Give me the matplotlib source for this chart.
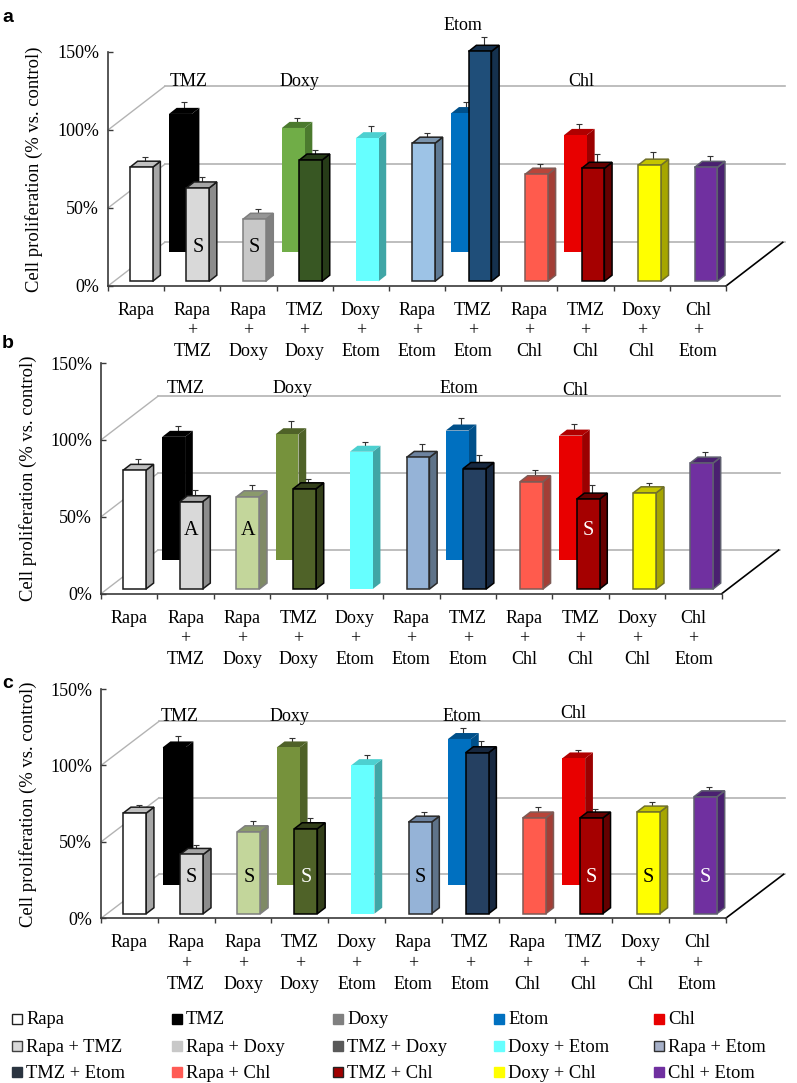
import matplotlib
matplotlib.use("Agg")
import matplotlib.pyplot as plt
from matplotlib.patches import Polygon, Rectangle

W, H = 797, 1083
plt.rcParams["font.family"] = ["Liberation Serif", "DejaVu Serif"]

# category labels, groups of bars
categories = ["Rapa", "Rapa\n+\nTMZ", "Rapa\n+\nDoxy", "TMZ\n+\nDoxy", "Doxy\n+\nEtom", "Rapa\n+\nEtom",
              "TMZ\n+\nEtom", "Rapa\n+\nChl", "TMZ\n+\nChl", "Doxy\n+\nChl", "Chl\n+\nEtom"]
front_names = ["Rapa", "Rapa + TMZ", "Rapa + Doxy", "TMZ + Doxy", "Doxy + Etom", "Rapa + Etom",
               "TMZ + Etom", "Rapa + Chl", "TMZ + Chl", "Doxy + Chl", "Chl + Etom"]
back_names = ["TMZ", "Doxy", "Etom", "Chl"]
back_slots = [1, 3, 6, 8]
y_ticks = [0, 50, 100, 150]
y_ticklabels = ["0%", "50%", "100%", "150%"]

# values, % vs. control
a_front = [73.1, 59.8, 39.7, 77.7, 91.7, 88.5, 147.4, 68.6, 72.4, 74.4, 73.0]
a_front_err = [4.9, 4.9, 4.5, 4.7, 5.8, 4.7, 7.0, 4.9, 7.0, 6.4, 5.3]
a_back = [88.5, 79.5, 89.0, 75.0]
a_back_err = [5.6, 4.7, 5.1, 5.1]
a_marks = {"Rapa + TMZ": ("S", "black"), "Rapa + Doxy": ("S", "black")}

b_front = [77.2, 56.8, 60.0, 65.2, 89.3, 85.6, 78.4, 69.8, 58.5, 62.6, 81.9]
b_front_err = [5.6, 5.6, 5.6, 4.6, 4.6, 6.7, 6.7, 5.4, 7.4, 4.3, 5.6]
b_back = [80.2, 81.9, 84.3, 81.0]
b_back_err = [4.8, 6.7, 6.5, 5.4]
b_marks = {"Rapa + TMZ": ("A", "black"), "Rapa + Doxy": ("A", "black"), "TMZ + Chl": ("S", "white")}

c_front = [65.8, 38.8, 53.6, 55.6, 97.2, 59.9, 105.3, 62.6, 62.6, 66.5, 76.5]
c_front_err = [3.3, 4.4, 5.2, 5.0, 4.6, 4.8, 5.9, 5.4, 4.1, 4.8, 4.6]
c_back = [90.0, 90.0, 95.5, 82.8]
c_back_err = [5.4, 4.1, 5.2, 3.5]
c_marks = {"Rapa + TMZ": ("S", "black"), "Rapa + Doxy": ("S", "black"), "TMZ + Doxy": ("S", "white"),
           "Rapa + Etom": ("S", "black"), "TMZ + Chl": ("S", "white"), "Doxy + Chl": ("S", "black"),
           "Chl + Etom": ("S", "white")}

# face, side, top, edge
colors = {
    "Rapa": ("#ffffff", "#a6a6a6", "#c0c0c0", "#1a1a1a"),
    "TMZ": ("#000000", "#000000", "#000000", "#000000"),
    "Rapa + TMZ": ("#d9d9d9", "#8c8c8c", "#a6a6a6", "#1a1a1a"),
    "Rapa + Doxy": ("#c3d69b", "#7f8a66", "#8a9a6c", "#7f7f7f"),
    "Doxy": ("#76923c", "#4f6228", "#4f6228", "#76923c"),
    "TMZ + Doxy": ("#4f6228", "#333f1a", "#333f1a", "#000000"),
    "Doxy + Etom": ("#66ffff", "#40a6a6", "#4dd0d0", "#66ffff"),
    "Rapa + Etom": ("#95b3d7", "#5f7389", "#6d83a0", "#2a2a2a"),
    "Etom": ("#0070c0", "#00508a", "#00508a", "#0070c0"),
    "TMZ + Etom": ("#254061", "#172840", "#172840", "#000000"),
    "Rapa + Chl": ("#ff5b4d", "#a33e36", "#b8453a", "#7f5a55"),
    "Chl": ("#e80000", "#9b0000", "#b00000", "#e80000"),
    "TMZ + Chl": ("#a50000", "#640000", "#640000", "#000000"),
    "Doxy + Chl": ("#ffff00", "#a6a600", "#c4c400", "#70702a"),
    "Chl + Etom": ("#7030a0", "#4a2070", "#4a2070", "#5f5f6f"),
}
# panel a has its own greens, blues and greys
colors_a = dict(colors)
colors_a.update({
    "Rapa + Doxy": ("#c8c8c8", "#808080", "#969696", "#7f7f7f"),
    "Doxy": ("#70ad47", "#4b7a2e", "#4b7a2e", "#70ad47"),
    "TMZ + Doxy": ("#385723", "#263b18", "#263b18", "#000000"),
    "Rapa + Etom": ("#9dc3e6", "#5f7a94", "#7b94ad", "#222222"),
    "TMZ + Etom": ("#1f4e79", "#15314e", "#15314e", "#000000"),
})

legend_rows = [
    [("Rapa", "#ffffff", "#222222"), ("TMZ", "#000000", "#000000"), ("Doxy", "#808080", "#808080"),
     ("Etom", "#0070c0", "#0070c0"), ("Chl", "#e80000", "#e80000")],
    [("Rapa + TMZ", "#d9d9d9", "#404040"), ("Rapa + Doxy", "#c8c8c8", "#c8c8c8"), ("TMZ + Doxy", "#595959", "#595959"),
     ("Doxy + Etom", "#66ffff", "#66ffff"), ("Rapa + Etom", "#a6b0c8", "#303030")],
    [("TMZ + Etom", "#2a3440", "#2a3440"), ("Rapa + Chl", "#ff5b55", "#ff5b55"), ("TMZ + Chl", "#a00000", "#222222"),
     ("Doxy + Chl", "#ffff00", "#ffff00"), ("Chl + Etom", "#7030a0", "#7030a0")],
]
legend_x = [12, 172, 333, 494, 654]
legend_y = [1019, 1046, 1072]

FONT = 13
GRID = "#b3b3b3"
AXIS = "#3a3a3a"
DEPTH_X = 0.137
DEPTH_Y = 3.9
BAR_W = 0.405

fig = plt.figure(figsize=(W / 100, H / 100), dpi=100)


def fig_text(x, y, s, **kw):
    kw.setdefault("fontsize", FONT)
    fig.text(x / W, 1 - y / H, s, **kw)


def draw_bar(ax, x, base, value, err, cols, z):
    face, side, top, edge = cols
    y = base + value
    xr = x + BAR_W
    lw = 1.1
    ax.add_patch(Polygon([(xr, base), (xr + DEPTH_X, base + DEPTH_Y), (xr + DEPTH_X, y + DEPTH_Y), (xr, y)],
                         fc=side, ec=edge, lw=lw if edge != face else 0, zorder=z, clip_on=False))
    ax.add_patch(Polygon([(x, y), (x + DEPTH_X, y + DEPTH_Y), (xr + DEPTH_X, y + DEPTH_Y), (xr, y)],
                         fc=top, ec=edge, lw=lw if edge != face else 0, zorder=z, clip_on=False))
    ax.add_patch(Rectangle((x, base), BAR_W, value, fc=face, ec=edge, lw=lw if edge != face else 0,
                           zorder=z + 0.1, clip_on=False))
    mid_x = x + (BAR_W + DEPTH_X) / 2
    mid_y = y + DEPTH_Y / 2
    eb = ax.errorbar([mid_x], [mid_y], yerr=[[0], [err]], ecolor="#333333", elinewidth=0.8, capsize=2.2,
                     capthick=0.8, fmt="none", zorder=z - 0.1)
    for art in eb.lines[1] + eb.lines[2]:
        art.set_clip_on(False)


def draw_panel(box, depth, wall, front, front_err, back, back_err, marks, mark_y, cols):
    left, top, right, bottom = box
    ax = fig.add_axes([left / W, 1 - bottom / H, (right - left) / W, (bottom - top) / H])
    ax.set_xlim(0, 11)
    ax.set_ylim(0, 150)
    ax.patch.set_alpha(0)
    for s in ("top", "right"):
        ax.spines[s].set_visible(False)
    for s in ("left", "bottom"):
        ax.spines[s].set_color(AXIS)
        ax.spines[s].set_linewidth(1.2)
        ax.spines[s].set_zorder(30)

    dx, dy, wall_right = depth[0], depth[1], wall
    # back wall and side wall lines
    for v in (0, 50, 100):
        ax.plot([0, dx], [v, v + dy], color=GRID, lw=1.0, zorder=1, clip_on=False)
        ax.plot([dx, wall_right], [v + dy, v + dy], color=GRID, lw=1.2, zorder=1, clip_on=False)
    ax.plot([11, 11 + dx], [0, dy], color="black", lw=1.2, zorder=2, clip_on=False)

    for i, name in enumerate(back_names):
        x = 0.08 + 1.005 * back_slots[i]
        draw_bar(ax, x, 21.8, back[i], back_err[i], cols[name], 5 + i)
    for i, name in enumerate(front_names):
        x = 0.39 + 1.005 * i
        draw_bar(ax, x, 3.0, front[i], front_err[i], cols[name], 12 + i)
        if name in marks:
            ax.text(x + BAR_W / 2, mark_y, marks[name][0], color=marks[name][1], fontsize=14.5,
                    ha="center", va="center", zorder=28)

    ax.set_xticks(range(12))
    ax.set_xticklabels([])
    ax.set_xticks([i + 0.5 for i in range(11)], categories, minor=True)
    ax.tick_params(axis="x", which="major", direction="out", length=3.6, width=1.0, color=AXIS)
    ax.tick_params(axis="x", which="minor", length=0, pad=11.5, labelsize=FONT)
    for lab in ax.get_xticklabels(minor=True):
        lab.set_linespacing(1.28)
    ax.set_yticks(y_ticks, y_ticklabels)
    ax.tick_params(axis="y", direction="in", length=3.6, width=1.0, color=AXIS, pad=6.5, labelsize=FONT)
    return ax


# panel a
draw_panel((108, 52, 726, 286), (1.01, 28), 12.05, a_front, a_front_err, a_back, a_back_err, a_marks, 24.4, colors_a)
# panel b
draw_panel((101, 363, 721.7, 593.7), (1.01, 28.4), 12.04, b_front, b_front_err, b_back, b_back_err, b_marks, 40.8, colors)
# panel c
draw_panel((101, 689, 725.7, 918.3), (1.02, 28.8), 12.04, c_front, c_front_err, c_back, c_back_err, c_marks, 26.4, colors)

fig_text(34.5, 169, "Cell proliferation (% vs. control)", rotation=90, ha="center", va="center", fontsize=13.4)
fig_text(28.5, 478.5, "Cell proliferation (% vs. control)", rotation=90, ha="center", va="center", fontsize=13.4)
fig_text(28.5, 804, "Cell proliferation (% vs. control)", rotation=90, ha="center", va="center", fontsize=13.4)

for x, y, s in [(170, 86, "TMZ"), (280, 86, "Doxy"), (444, 30, "Etom"), (568, 86, "Chl"),
                (167, 393, "TMZ"), (273, 393, "Doxy"), (440, 393, "Etom"), (562, 395, "Chl"),
                (161, 721, "TMZ"), (270, 721, "Doxy"), (443, 721, "Etom"), (560, 718, "Chl")]:
    fig_text(x, y, s, ha="left", va="baseline")

for y, s in [(22, "a"), (348, "b"), (688, "c")]:
    fig_text(2, y, s, family=["Liberation Sans"], fontweight="bold", fontsize=14, ha="left", va="baseline")

for row, y in zip(legend_rows, legend_y):
    for (name, fc, ec), x in zip(row, legend_x):
        fig.add_artist(Rectangle((x / W, 1 - (y + 5) / H), 10 / W, 10 / H, fc=fc, ec=ec, lw=1.0,
                                 transform=fig.transFigure))
        fig_text(x + 14, y + 5.5, name, ha="left", va="baseline", fontsize=13.3)

fig.savefig("out.png", dpi=100)
